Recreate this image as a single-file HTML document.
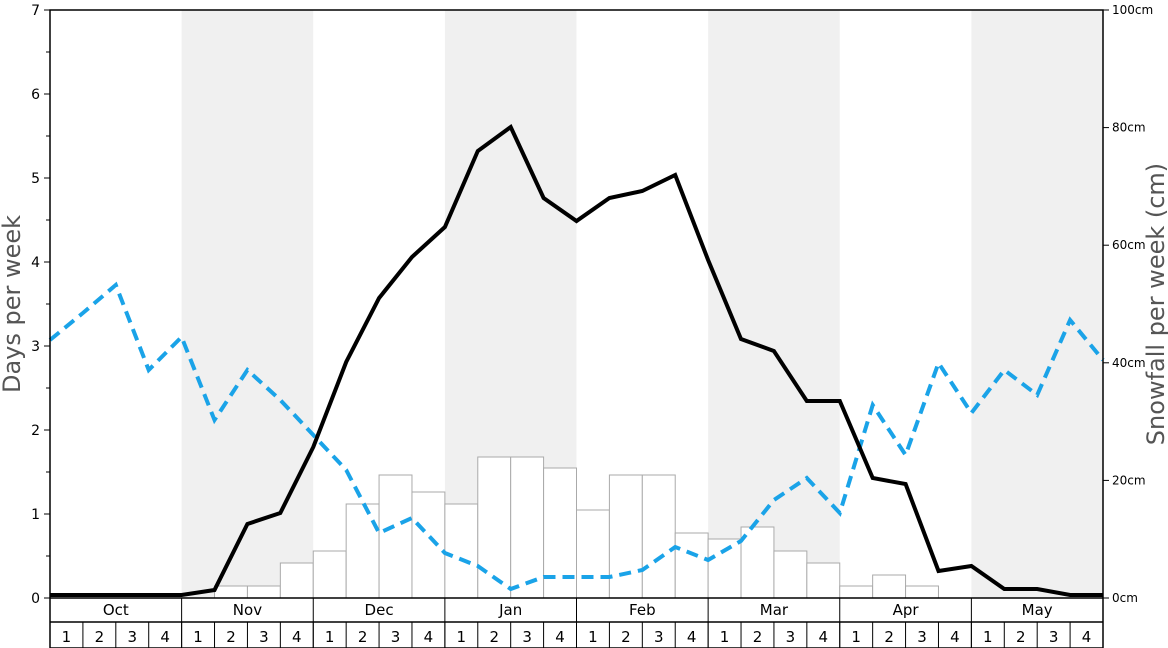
<!DOCTYPE html>
<html><head><meta charset="utf-8"><style>
body{margin:0;background:#fff}
svg{display:block;font-family:"DejaVu Sans","Liberation Sans",sans-serif}
</style></head><body>
<svg width="1168" height="648" viewBox="0 0 1168 648" xmlns="http://www.w3.org/2000/svg">
<g fill="#f0f0f0">
<rect x="181.6" y="10" width="131.6" height="588"/>
<rect x="444.9" y="10" width="131.6" height="588"/>
<rect x="708.1" y="10" width="131.6" height="588"/>
<rect x="971.4" y="10" width="131.6" height="588"/>
</g>
<g fill="#fff" stroke="#aaa" stroke-width="1" id="bars"></g>
<polyline id="blue" fill="none" stroke="#1aa3e8" stroke-width="4" stroke-dasharray="12,7"/>
<polyline id="black" fill="none" stroke="#000" stroke-width="4" stroke-linejoin="miter"/>
<rect x="50" y="10" width="1053" height="638" fill="none" stroke="#000" stroke-width="1.5"/>
<line x1="50" y1="598" x2="1103" y2="598" stroke="#000" stroke-width="1.5"/>
<line x1="50" y1="622" x2="1103" y2="622" stroke="#000" stroke-width="1.5"/>
<g id="ax" font-size="14" fill="#000"></g>
<text transform="translate(20,304) rotate(-90)" text-anchor="middle" font-size="24" fill="#555">Days per week</text>
<text transform="translate(1164,304) rotate(-90)" text-anchor="middle" font-size="24" fill="#555">Snowfall per week (cm)</text>
</svg>
<script>
var ns="http://www.w3.org/2000/svg",W=1053/32;
function el(t,a,p,txt){var e=document.createElementNS(ns,t);for(var k in a)e.setAttribute(k,a[k]);if(txt!=null)e.textContent=txt;p.appendChild(e);return e;}
var bars=[0,0,0,0,0,586,586,563,551,504,475,492,504,457,457,468,510,475,475,533,539,527,551,563,586,575,586,0,0,0,0,0];
var g=document.getElementById('bars');
bars.forEach(function(y,i){if(y)el('rect',{x:50+i*W,y:y,width:W,height:598-y},g);});
var bk=[595,595,595,595,595,590,524,513,447,362,298,257,227,151,127,198,221,198,191,175,260,339,351,401,401,478,484,571,566,589,589,595,595];
var bl=[340,313,285,370,337,420,370,400,435,470,533,518,553,566,589,577,577,577,570,547,560,541,500,478,513,405,455,363,413,370,395,320,360];
function pts(a){return a.map(function(y,i){return (50+i*W).toFixed(1)+','+y}).join(' ');}
document.getElementById('black').setAttribute('points',pts(bk));
document.getElementById('blue').setAttribute('points',pts(bl));
var ax=document.getElementById('ax');
for(var v=0;v<=7;v++){var y=598-v*84;el('line',{x1:44,y1:y,x2:50,y2:y,stroke:'#000'},ax);el('text',{x:40,y:y+5,'text-anchor':'end'},ax,v);
 if(v<7)el('line',{x1:46,y1:y-42,x2:50,y2:y-42,stroke:'#000'},ax);}
for(var c=0;c<=100;c+=20){var y=598-c*5.88;el('line',{x1:1103,y1:y,x2:1109,y2:y,stroke:'#000'},ax);el('text',{x:1112,y:y+4,'font-size':12},ax,c+'cm');}
var m=['Oct','Nov','Dec','Jan','Feb','Mar','Apr','May'];
for(var i=0;i<8;i++){var x=50+i*4*W;el('line',{x1:x,y1:598,x2:x,y2:648,stroke:'#000'},ax);el('text',{x:x+2*W,y:615,'text-anchor':'middle','font-size':15},ax,m[i]);
 for(var w=0;w<4;w++){var xx=x+w*W;el('line',{x1:xx,y1:622,x2:xx,y2:648,stroke:'#000'},ax);el('text',{x:xx+W/2,y:642,'text-anchor':'middle','font-size':15},ax,w+1);}}
</script>
</body></html>
